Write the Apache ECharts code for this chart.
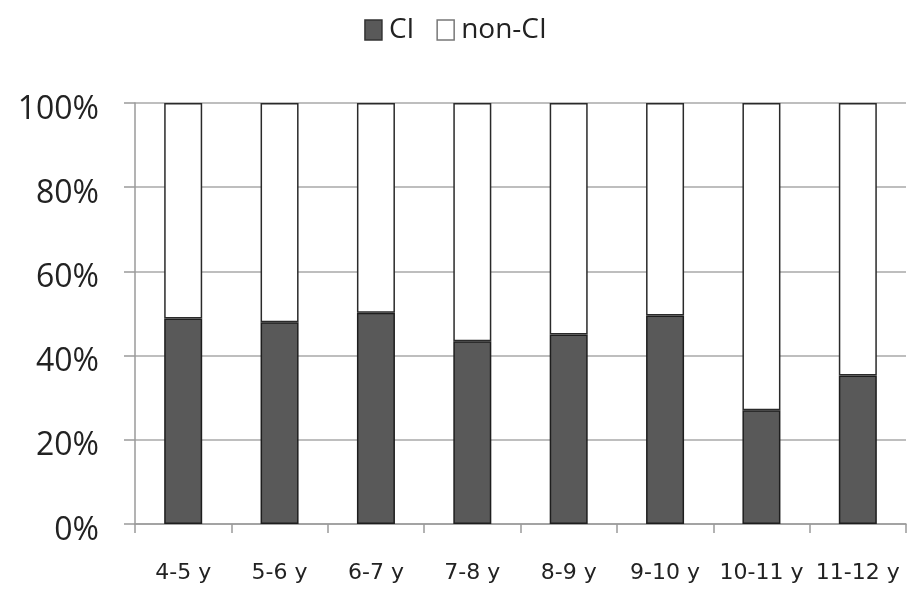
<!DOCTYPE html>
<html>
<head>
<meta charset="utf-8">
<script src="https://cdn.jsdelivr.net/npm/echarts@6/dist/echarts.min.js"></script>
<style>html,body{margin:0;padding:0;background:#fff}#c{width:911px;height:596px}</style>
</head>
<body>
<div id="c"></div>
<script>
const categories = ['4-5 y','5-6 y','6-7 y','7-8 y','8-9 y','9-10 y','10-11 y','11-12 y'];
const ciValues = [48.8, 47.9, 50.2, 43.4, 45.0, 49.5, 27.0, 35.3];
const nonCiValues = ciValues.map(v => +(100 - v).toFixed(1));
const yTicks = [0, 20, 40, 60, 80, 100];

const chart = echarts.init(document.getElementById('c'), null, {renderer:'canvas'});
chart.setOption({
  animation: false,
  backgroundColor: '#fff',
  legend: {
    top: 11, left: 'center', itemGap: 22, itemWidth: 17, itemHeight: 20,
    icon: 'rect',
    textStyle: {fontFamily: 'Open Sans', fontSize: 28, color: '#222', padding: [0, 0, 0, 2]},
    data: [
      {name: 'CI', itemStyle: {color: '#595959', borderColor: '#333', borderWidth: 1.5}},
      {name: 'non-CI', itemStyle: {color: '#fff', borderColor: '#777', borderWidth: 1.5}}
    ]
  },
  grid: {left: 135, right: 5, top: 103, bottom: 72, containLabel: false},
  xAxis: {
    type: 'category', data: categories, boundaryGap: true,
    axisLine: {show: true, lineStyle: {color: '#9a9a9a', width: 1.5}},
    axisTick: {show: true, alignWithLabel: false, length: 9, lineStyle: {color: '#9a9a9a', width: 1.5}},
    axisLabel: {margin: 38, fontFamily: 'DejaVu Sans', fontSize: 22, color: '#222', interval: 0}
  },
  yAxis: {
    type: 'value', min: 0, max: 100, interval: 20,
    axisLine: {show: true, lineStyle: {color: '#9a9a9a', width: 1.5}},
    axisTick: {show: true, length: 11, lineStyle: {color: '#9a9a9a', width: 1.5}},
    splitLine: {show: true, lineStyle: {color: '#a8a8a8', width: 1.5}},
    axisLabel: {
      margin: 36, color: '#222',
      formatter: v => yTicks.includes(v) ? '{a|' + v + '%}' : '',
      rich: {a: {fontFamily: 'Open Sans', fontSize: 32, color: '#222', padding: [13, 0, 0, 0]}}
    }
  },
  series: [
    {name: 'CI', type: 'bar', stack: 's', data: ciValues, barWidth: 38,
     itemStyle: {color: '#595959', borderColor: '#1e1e1e', borderWidth: 1.5}},
    {name: 'non-CI', type: 'bar', stack: 's', data: nonCiValues, barWidth: 38,
     itemStyle: {color: '#ffffff', borderColor: '#2a2a2a', borderWidth: 1.5}}
  ]
});
</script>
</body>
</html>
